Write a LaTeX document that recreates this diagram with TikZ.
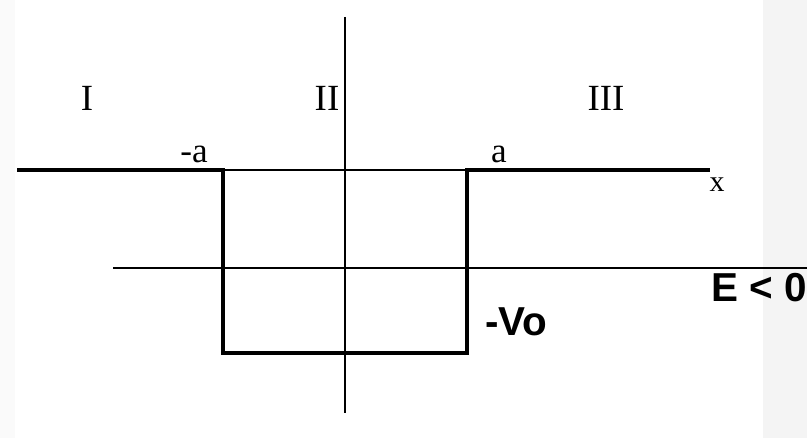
\documentclass[tikz,border=0pt]{standalone}
\usepackage{fontspec}
\setmainfont{Liberation Serif}
\newfontfamily\labelsans{Liberation Sans}
\usepackage{tikz}
\usetikzlibrary{positioning, calc}

\begin{document}
\begin{tikzpicture}[x=0.02cm, y=-0.02cm,
  wall/.style   = {line width=2pt, line join=miter},
  thin/.style   = {line width=0.85pt},
  eline/.style  = {line width=1.1pt},
  region/.style = {font=\fontsize{21}{22}\selectfont, inner sep=0pt},
  tick/.style   = {font=\fontsize{20}{21}\selectfont, inner sep=0pt},
  big/.style    = {font=\labelsans\bfseries\fontsize{23}{24}\selectfont, inner sep=0pt},
]

%% ── page ────────────────────────────────────────────────────────────────
\useasboundingbox (0,0) rectangle (807,438);
\fill[gray!4]  (0,0) rectangle (15,438);
\fill[gray!9]  (763,0) rectangle (807,438);

%% ── corners of the well ────────────────────────────────────────────────
\coordinate (wl) at (17,170);
\coordinate (tl) at (223,170);
\coordinate (bl) at (223,353);
\coordinate (br) at (467,353);
\coordinate (tr) at (467,170);
\coordinate (wr) at (710,170);
\coordinate (ytop) at (345,17);
\coordinate (ybot) at (345,413);
\coordinate (eleft) at (113,268);
\coordinate (eright) at (807,268);

%% ── axes and energy level ─────────────────────────────────────────────
\draw[thin] (ytop) -- (ybot);
\draw[thin] (tl) -- (tr);
\draw[eline] (eleft) -- (eright);

%% ── potential ─────────────────────────────────────────────────────────
\draw[wall] (wl) -- (tl) -- (bl) -- (br) -- (tr) -- (wr);

%% ── labels ────────────────────────────────────────────────────────────
\node[region] (rI)   at (87,98)  {I};
\node[region] (rII)  at (327,98) {II};
\node[region] (rIII) at (606,98) {III};

\node[tick] (lma) at (194,154) {-a};
\node[tick] (lpa) at (499,154) {a};
\node[tick, font=\fontsize{17}{18}\selectfont] (lx) at (717,185) {x};

\node[big, anchor=west] (lV) at (485,322) {-Vo};
\node[big, anchor=west] (lE) at (711,288) {E < 0};

\end{tikzpicture}
\end{document}
